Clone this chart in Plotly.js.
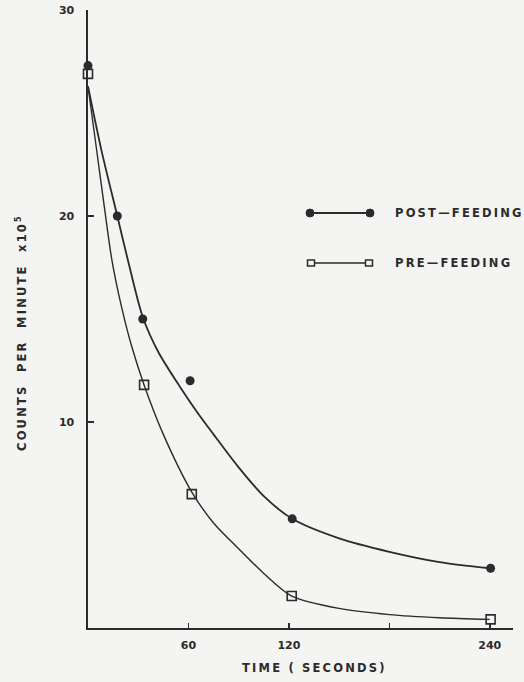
<!DOCTYPE html>
<html>
<head>
<meta charset="utf-8">
<script src="https://cdn.plot.ly/plotly-3.0.1.min.js"></script>
<style>
  html, body { margin: 0; padding: 0; background: #f4f4f2; }
  #chart { width: 524px; height: 682px; }
  .annotation-text { letter-spacing: 2.2px; }
</style>
</head>
<body>
<div id="chart"></div>
<script>
// Measured points
const postTime = [0, 17.5, 32.7, 61, 122, 240.5];
const postCounts = [27.3, 20.0, 15.0, 12.0, 5.3, 2.9];
const preTime = [0, 33.5, 62, 121.7, 240.5];
const preCounts = [26.9, 11.8, 6.5, 1.55, 0.42];

// Hand-drawn fitted curves
const postCurveTime = [0, 8, 17.5, 24, 32.7, 42, 55, 65, 75, 90, 105, 122, 150, 180, 210, 240];
const postCurveCounts = [26.3, 23.2, 20.0, 17.8, 15.1, 13.4, 11.7, 10.5, 9.4, 7.8, 6.4, 5.3, 4.35, 3.7, 3.2, 2.9];
const preCurveTime = [0, 5, 10, 14.2, 20, 26, 33.5, 45, 62, 75, 90, 105, 121.7, 150, 180, 210, 240];
const preCurveCounts = [26.3, 23.3, 20.3, 17.9, 15.6, 13.7, 11.8, 9.4, 6.6, 5.1, 3.85, 2.65, 1.55, 0.95, 0.65, 0.5, 0.42];

const xTickVals = [60, 120, 240];
const xTickText = ['60', '120', '240'];
const xMinorTickVals = [180];
const yTickVals = [10, 20, 30];
const yTickText = ['10', '20', '30'];

const seriesNames = ['POST—FEEDING', 'PRE—FEEDING'];

const ink = '#2b2b2b';
const fontFam = 'DejaVu Sans, sans-serif';

// plot area in pixels
const L = 88, R = 513, T = 10, B = 628;
const W = 524, H = 682;
const px = v => (v - L) / (R - L);
const py = v => (B - v) / (B - T);

const traces = [
  { x: postCurveTime, y: postCurveCounts, mode: 'lines', line: { color: ink, width: 1.8, shape: 'spline', smoothing: 0.8 }, hoverinfo: 'skip', showlegend: false },
  { x: preCurveTime, y: preCurveCounts, mode: 'lines', line: { color: ink, width: 1.4, shape: 'spline', smoothing: 0.8 }, hoverinfo: 'skip', showlegend: false },
  { x: postTime, y: postCounts, mode: 'markers', name: seriesNames[0], marker: { symbol: 'circle', size: 9, color: ink }, showlegend: false, cliponaxis: false },
  { x: preTime, y: preCounts, mode: 'markers', name: seriesNames[1], marker: { symbol: 'square-open', size: 9, color: ink, line: { width: 1.6, color: ink } }, showlegend: false, cliponaxis: false }
];

// legend drawn with shapes
const shapes = [];
function lineShape(x0, x1, y, w) {
  shapes.push({ type: 'line', xref: 'paper', yref: 'paper', x0: px(x0), x1: px(x1), y0: py(y), y1: py(y), line: { color: ink, width: w } });
}
function circ(cx, cy, r) {
  shapes.push({ type: 'circle', xref: 'paper', yref: 'paper', x0: px(cx - r), x1: px(cx + r), y0: py(cy + r), y1: py(cy - r), fillcolor: ink, line: { color: ink, width: 1 } });
}
function sq(cx, cy, w, h) {
  shapes.push({ type: 'rect', xref: 'paper', yref: 'paper', x0: px(cx - w / 2), x1: px(cx + w / 2), y0: py(cy + h / 2), y1: py(cy - h / 2), fillcolor: '#f4f4f2', line: { color: ink, width: 1.5 } });
}
lineShape(310, 370, 213, 1.8); circ(310, 213, 4); circ(370, 213, 4);
lineShape(311, 369, 263, 1.3); sq(311, 263, 7, 6); sq(369, 263, 7, 6);

const annotations = [
  { text: seriesNames[0], xref: 'paper', yref: 'paper', x: px(393), y: py(213), xanchor: 'left', yanchor: 'middle', showarrow: false, font: { family: fontFam, size: 11.5, color: ink, weight: 'bold' } },
  { text: seriesNames[1], xref: 'paper', yref: 'paper', x: px(393), y: py(263), xanchor: 'left', yanchor: 'middle', showarrow: false, font: { family: fontFam, size: 11.5, color: ink, weight: 'bold' } },
  { text: 'TIME ( SECONDS)', xref: 'paper', yref: 'paper', x: px(314), y: py(668), xanchor: 'center', yanchor: 'middle', showarrow: false, font: { family: fontFam, size: 11.5, color: ink, weight: 'bold' } },
  { text: 'COUNTS  PER  MINUTE  x10<sup>5</sup>', xref: 'paper', yref: 'paper', x: px(21), y: py(333), xanchor: 'center', yanchor: 'middle', textangle: -90, showarrow: false, font: { family: fontFam, size: 11.5, color: ink, weight: 'bold' } }
];

const layout = {
  width: W, height: H,
  margin: { l: L, r: W - R, t: T, b: H - B, pad: 0 },
  paper_bgcolor: '#f4f4f2',
  plot_bgcolor: '#f4f4f2',
  showlegend: false,
  xaxis: {
    range: [0, (R - L) / 1.674], showgrid: false, zeroline: false,
    showline: true, linecolor: ink, linewidth: 1.6,
    tickmode: 'array', tickvals: xTickVals, ticktext: xTickText,
    ticks: 'inside', ticklen: 5, tickwidth: 1.5, tickcolor: ink,
    minor: { tickmode: 'array', tickvals: xMinorTickVals, ticks: 'inside', ticklen: 5, tickwidth: 1.5, tickcolor: ink, showgrid: false },
    tickfont: { family: fontFam, size: 11, color: ink, weight: 'bold' },
    ticklabelstandoff: 6, fixedrange: true
  },
  yaxis: {
    range: [0, 30], showgrid: false, zeroline: false,
    showline: true, linecolor: ink, linewidth: 1.6,
    tickmode: 'array', tickvals: yTickVals, ticktext: yTickText,
    ticks: 'inside', ticklen: 6, tickwidth: 1.5, tickcolor: ink,
    tickfont: { family: fontFam, size: 11, color: ink, weight: 'bold' },
    ticklabelstandoff: 10, fixedrange: true
  },
  shapes: shapes,
  annotations: annotations
};

Plotly.newPlot('chart', traces, layout, { displayModeBar: false, staticPlot: true }).then(gd => {
  // drop empty placeholder / off-screen measuring text nodes left by the library
  gd.querySelectorAll('svg text').forEach(t => {
    if (!t.textContent || !t.textContent.trim()) t.remove();
  });
  document.querySelectorAll('#js-plotly-tester').forEach(e => e.remove());
});
</script>
</body>
</html>
